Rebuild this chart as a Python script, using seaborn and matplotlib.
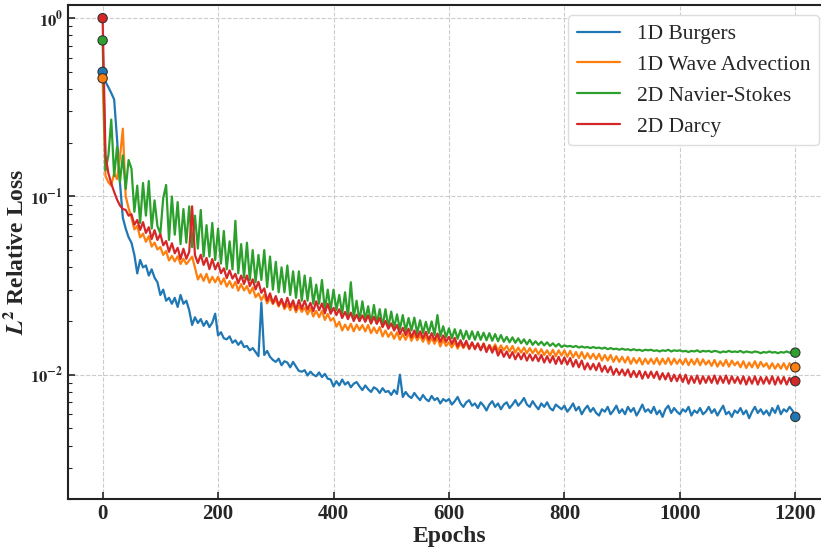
import numpy as np
import pandas as pd
import matplotlib
matplotlib.use("Agg")
import matplotlib.pyplot as plt
import seaborn as sns
from matplotlib.ticker import FuncFormatter, LogLocator

# one value every 5 epochs
epochs = list(range(0, 1201, 5))

tasks = ["1D Burgers", "1D Wave Advection", "2D Navier-Stokes", "2D Darcy"]
colors = ["#1f77b4", "#ff7f0e", "#2ca02c", "#d62728"]

burgers = [
    0.50, 0.44, 0.41, 0.38, 0.35, 0.21, 0.12, 0.076, 0.066, 0.059,
    0.055, 0.047, 0.037, 0.044, 0.040, 0.041, 0.036, 0.039, 0.035, 0.033,
    0.028, 0.030, 0.026, 0.027, 0.025, 0.027, 0.024, 0.028, 0.025, 0.026,
    0.023, 0.019, 0.021, 0.0195, 0.0205, 0.0188, 0.020, 0.0185, 0.0196, 0.022,
    0.0166, 0.0173, 0.0160, 0.0158, 0.0164, 0.0151, 0.0156, 0.0147, 0.0154, 0.0143,
    0.0145, 0.0137, 0.0141, 0.0134, 0.0127, 0.0254, 0.0129, 0.0136, 0.0126, 0.0121,
    0.0118, 0.0123, 0.0113, 0.0119, 0.0117, 0.0110, 0.0118, 0.0111, 0.0105, 0.0104,
    0.0106, 0.0099, 0.0104, 0.0100, 0.0098, 0.0103, 0.0097, 0.0101, 0.0095, 0.0094,
    0.0086, 0.0092, 0.0087, 0.0094, 0.0088, 0.0091, 0.0085, 0.0089, 0.0091, 0.0086,
    0.0082, 0.0087, 0.0083, 0.0080, 0.0085, 0.0083, 0.0079, 0.0084, 0.0080, 0.0081,
    0.0077, 0.0082, 0.0078, 0.0100, 0.0075, 0.0080, 0.0076, 0.0074, 0.0079, 0.0075,
    0.0072, 0.0077, 0.0073, 0.0071, 0.0076, 0.0072, 0.0074, 0.0069, 0.0073, 0.0071,
    0.0073, 0.0068, 0.0071, 0.0075, 0.0069, 0.0066, 0.0070, 0.0072, 0.0067, 0.0069,
    0.0065, 0.0070, 0.0067, 0.0063, 0.0068, 0.0071, 0.0066, 0.0069, 0.0064, 0.0068,
    0.0070, 0.0065, 0.0068, 0.0072, 0.0067, 0.0070, 0.0074, 0.0068, 0.0066, 0.0071,
    0.0067, 0.0064, 0.0069, 0.0066, 0.0070, 0.0065, 0.0063, 0.0068, 0.0066, 0.0064,
    0.0067, 0.0062, 0.0065, 0.0069, 0.0063, 0.0066, 0.0060, 0.0064, 0.0067, 0.0062,
    0.0065, 0.0061, 0.0059, 0.0064, 0.0062, 0.0066, 0.0060, 0.0063, 0.0067, 0.0061,
    0.0064, 0.0060, 0.0066, 0.0062, 0.0065, 0.0059, 0.0063, 0.0068, 0.0062, 0.0064,
    0.0061, 0.0066, 0.0060, 0.0063, 0.0058, 0.0064, 0.0067, 0.0061, 0.0065, 0.0062,
    0.0060, 0.0064, 0.0062, 0.0066, 0.0059, 0.0063, 0.0061, 0.0065, 0.0060, 0.0062,
    0.0066, 0.0061, 0.0064, 0.0059, 0.0063, 0.0067, 0.0060, 0.0062, 0.0058, 0.0063,
    0.0061, 0.0065, 0.0060, 0.0063, 0.0057, 0.0062, 0.0066, 0.0061, 0.0064, 0.0060,
    0.0063, 0.0059, 0.0065, 0.0061, 0.0067, 0.0060, 0.0064, 0.0062, 0.0066, 0.0063,
    0.0058,
]

wave = [
    0.46, 0.13, 0.12, 0.115, 0.135, 0.125, 0.165, 0.24, 0.10, 0.086,
    0.0759, 0.0653, 0.0683, 0.0589, 0.0618, 0.0557, 0.0599, 0.0523, 0.0551, 0.0504,
    0.052, 0.047, 0.0494, 0.0437, 0.0464, 0.0432, 0.0462, 0.0418, 0.0447, 0.0417,
    0.0437, 0.046, 0.0399, 0.0342, 0.0366, 0.0336, 0.0368, 0.0328, 0.0354, 0.033,
    0.0354, 0.0322, 0.0347, 0.0312, 0.0335, 0.0307, 0.0332, 0.0296, 0.0322, 0.0297,
    0.0314, 0.0286, 0.0308, 0.0272, 0.0286, 0.0262, 0.0281, 0.0251, 0.027, 0.0249,
    0.0264, 0.0241, 0.026, 0.0233, 0.0249, 0.023, 0.025, 0.0224, 0.0243, 0.0225,
    0.0238, 0.0218, 0.0236, 0.0212, 0.0228, 0.021, 0.0228, 0.0203, 0.0219, 0.0201,
    0.0208, 0.0186, 0.0198, 0.0177, 0.0191, 0.0178, 0.0193, 0.0175, 0.0191, 0.0178,
    0.019, 0.0175, 0.019, 0.0171, 0.0184, 0.0171, 0.0185, 0.0164, 0.0177, 0.0163,
    0.0173, 0.0159, 0.0173, 0.0157, 0.0169, 0.0157, 0.0171, 0.0155, 0.0168, 0.0156,
    0.0166, 0.0153, 0.0166, 0.0149, 0.0161, 0.0149, 0.0161, 0.0144, 0.0157, 0.0145,
    0.0152, 0.0142, 0.0153, 0.014, 0.015, 0.0141, 0.0151, 0.0139, 0.015, 0.0141,
    0.0149, 0.0139, 0.015, 0.0137, 0.0147, 0.0138, 0.0148, 0.0136, 0.0146, 0.0137,
    0.0145, 0.0135, 0.0145, 0.0133, 0.0142, 0.0133, 0.0142, 0.0132, 0.0141, 0.0132,
    0.014, 0.013, 0.0139, 0.0129, 0.0137, 0.0128, 0.0138, 0.0127, 0.0137, 0.0128,
    0.0137, 0.0126, 0.0136, 0.0125, 0.0134, 0.0124, 0.0134, 0.0123, 0.0132, 0.0123,
    0.0131, 0.0122, 0.0131, 0.012, 0.0129, 0.012, 0.0129, 0.0118, 0.0127, 0.0118,
    0.0126, 0.0117, 0.0126, 0.0115, 0.0124, 0.0116, 0.0124, 0.0114, 0.0123, 0.0115,
    0.0123, 0.0115, 0.0124, 0.0114, 0.0123, 0.0115, 0.0124, 0.0114, 0.0123, 0.0115,
    0.0122, 0.0114, 0.0123, 0.0113, 0.0122, 0.0114, 0.0123, 0.0113, 0.0122, 0.0114,
    0.012, 0.0112, 0.0121, 0.0111, 0.0119, 0.0112, 0.0121, 0.0111, 0.012, 0.0113,
    0.0118, 0.011, 0.0119, 0.0109, 0.0117, 0.011, 0.0119, 0.0109, 0.0118, 0.0111,
    0.0116, 0.0108, 0.0116, 0.0108, 0.0115, 0.0108, 0.0116, 0.0107, 0.0116, 0.0109,
    0.0110,
]

navier = [
    0.75, 0.14, 0.17, 0.27, 0.13, 0.19, 0.12, 0.17, 0.11, 0.16,
    0.143, 0.082, 0.115, 0.071, 0.119, 0.078, 0.122, 0.066, 0.095, 0.068,
    0.062, 0.098, 0.116, 0.057, 0.100, 0.061, 0.093, 0.054, 0.085, 0.055,
    0.088, 0.052, 0.078, 0.051, 0.084, 0.046, 0.069, 0.046, 0.071, 0.044,
    0.066, 0.042, 0.064, 0.039, 0.056, 0.039, 0.073, 0.037, 0.054, 0.035,
    0.055, 0.034, 0.050, 0.033, 0.047, 0.034, 0.050, 0.031, 0.046, 0.030,
    0.043, 0.029, 0.040, 0.029, 0.041, 0.028, 0.038, 0.027, 0.038, 0.026,
    0.036, 0.026, 0.035, 0.025, 0.032, 0.025, 0.034, 0.023, 0.030, 0.023,
    0.030, 0.023, 0.028, 0.022, 0.029, 0.021, 0.033, 0.021, 0.026, 0.020,
    0.0258, 0.0203, 0.0242, 0.0194, 0.0246, 0.0194, 0.0233, 0.0187, 0.0233, 0.0185,
    0.0226, 0.0183, 0.0218, 0.0180, 0.0216, 0.0176, 0.0208, 0.0177, 0.0209, 0.0171,
    0.0202, 0.0171, 0.0198, 0.0171, 0.0199, 0.0167, 0.0216, 0.0164, 0.0187, 0.0162,
    0.0182, 0.0160, 0.0180, 0.0159, 0.0178, 0.0158, 0.0176, 0.0158, 0.0175, 0.0157,
    0.0174, 0.0157, 0.0172, 0.0156, 0.0171, 0.0155, 0.0169, 0.0154, 0.0167, 0.0153,
    0.0163, 0.0152, 0.0162, 0.0151, 0.0160, 0.0150, 0.0158, 0.0148, 0.0157, 0.0147,
    0.0154, 0.0147, 0.0153, 0.0146, 0.0152, 0.0145, 0.0150, 0.0144, 0.0149, 0.0143,
    0.0146, 0.0144, 0.0145, 0.0143, 0.0145, 0.0142, 0.0144, 0.0142, 0.0143, 0.0141,
    0.0143, 0.0141, 0.0142, 0.0140, 0.0142, 0.0139, 0.0141, 0.0139, 0.0140, 0.0138,
    0.0140, 0.0138, 0.0139, 0.0137, 0.0139, 0.0137, 0.0138, 0.0136, 0.0138, 0.0137,
    0.0138, 0.0136, 0.0137, 0.0135, 0.0137, 0.0136, 0.0138, 0.0135, 0.0137, 0.0136,
    0.0137, 0.0135, 0.0136, 0.0134, 0.0136, 0.0135, 0.0137, 0.0134, 0.0136, 0.0135,
    0.0136, 0.0134, 0.0136, 0.0135, 0.0133, 0.0135, 0.0134, 0.0136, 0.0134, 0.0135,
    0.0134, 0.0136, 0.0133, 0.0135, 0.0134, 0.0133, 0.0135, 0.0134, 0.0132, 0.0134,
    0.0133, 0.0135, 0.0133, 0.0134, 0.0132, 0.0134, 0.0133, 0.0135, 0.0133, 0.0134,
    0.0133,
]

darcy = [
    1.0, 0.17, 0.135, 0.118, 0.106, 0.096, 0.089, 0.085, 0.084, 0.078,
    0.0795, 0.0694, 0.0738, 0.0649, 0.0717, 0.0624, 0.0672, 0.0577, 0.0647, 0.057,
    0.0615, 0.0532, 0.0562, 0.0489, 0.0546, 0.048, 0.0515, 0.0446, 0.0509, 0.0447,
    0.0488, 0.088, 0.0468, 0.0423, 0.0471, 0.0413, 0.0452, 0.0391, 0.0445, 0.039,
    0.0424, 0.0371, 0.0395, 0.0348, 0.0385, 0.0346, 0.0368, 0.0326, 0.036, 0.0323,
    0.036, 0.0314, 0.0343, 0.0301, 0.0332, 0.0288, 0.0305, 0.026, 0.0286, 0.0252,
    0.0276, 0.0245, 0.0266, 0.0239, 0.027, 0.024, 0.0261, 0.0231, 0.0262, 0.0234,
    0.026, 0.0232, 0.0253, 0.0227, 0.0258, 0.023, 0.0251, 0.0221, 0.025, 0.022,
    0.0237, 0.0216, 0.0233, 0.0208, 0.0225, 0.0205, 0.0223, 0.020, 0.0217, 0.020,
    0.0215, 0.0198, 0.0215, 0.0194, 0.0211, 0.0193, 0.0208, 0.0185, 0.020, 0.0181,
    0.0194, 0.0177, 0.019, 0.0169, 0.0183, 0.0167, 0.0181, 0.0162, 0.0177, 0.0162,
    0.0175, 0.016, 0.0174, 0.0157, 0.0171, 0.0156, 0.017, 0.0153, 0.0166, 0.0153,
    0.0163, 0.0149, 0.0161, 0.0144, 0.0156, 0.0143, 0.0155, 0.014, 0.0152, 0.0139,
    0.015, 0.0137, 0.0149, 0.0134, 0.0146, 0.0133, 0.0144, 0.0128, 0.0138, 0.0126,
    0.0135, 0.0124, 0.0134, 0.0122, 0.0132, 0.0122, 0.0132, 0.012, 0.013, 0.012,
    0.0129, 0.0119, 0.0129, 0.0117, 0.0127, 0.0117, 0.0127, 0.0115, 0.0126, 0.0115,
    0.0125, 0.0114, 0.0124, 0.0111, 0.0121, 0.011, 0.012, 0.0107, 0.0116, 0.0107,
    0.0115, 0.0106, 0.0116, 0.0104, 0.0112, 0.0103, 0.0111, 0.010, 0.0108, 0.010,
    0.0107, 0.0099, 0.0107, 0.0097, 0.0105, 0.0097, 0.0105, 0.0095, 0.0104, 0.0096,
    0.0104, 0.0096, 0.0104, 0.0094, 0.0102, 0.0094, 0.0102, 0.0092, 0.010, 0.0092,
    0.010, 0.0091, 0.010, 0.0089, 0.0098, 0.009, 0.0099, 0.0089, 0.0098, 0.009,
    0.0098, 0.009, 0.0099, 0.0089, 0.0098, 0.009, 0.0099, 0.0089, 0.0098, 0.009,
    0.0097, 0.0089, 0.0098, 0.0088, 0.0097, 0.0089, 0.0098, 0.0088, 0.0097, 0.0089,
    0.0097, 0.0089, 0.0098, 0.0088, 0.0097, 0.0089, 0.0097, 0.0088, 0.0096, 0.0089,
    0.0092,
]

series = [burgers, wave, navier, darcy]

df = pd.concat(
    [pd.DataFrame({"Epoch": epochs, "Loss": vals, "Task": name}) for name, vals in zip(tasks, series)],
    ignore_index=True,
)
ends = df[df["Epoch"].isin([epochs[0], epochs[-1]])]

sns.set_style("ticks")
plt.rcParams["font.family"] = ["Liberation Serif", "DejaVu Serif"]
plt.rcParams["mathtext.fontset"] = "stix"

fig = plt.figure(figsize=(8.21, 5.47), dpi=100)
ax = fig.add_axes([0.0828, 0.0872, 0.9281, 0.9042])

pal = dict(zip(tasks, colors))
sns.lineplot(data=df, x="Epoch", y="Loss", hue="Task", palette=pal, linewidth=1.6,
             estimator=None, ax=ax)
sns.scatterplot(data=ends, x="Epoch", y="Loss", hue="Task", palette=pal, s=45,
                edgecolor="#333333", linewidth=0.8, legend=False, zorder=4, ax=ax)

ax.set_yscale("log")
ax.set_xlim(-60, 1260)
ax.set_ylim(2.0e-3, 1.19)
ax.set_xticks([0, 200, 400, 600, 800, 1000, 1200])
ax.yaxis.set_major_locator(LogLocator(base=10))
ax.yaxis.set_minor_locator(LogLocator(base=10, subs=np.arange(2, 10)))
ax.yaxis.set_major_formatter(FuncFormatter(lambda v, _: r"$\mathbf{10^{%d}}$" % round(np.log10(v))))

ax.grid(True, which="major", linestyle="--", color="#cccccc", linewidth=0.8)
ax.tick_params(axis="both", which="major", direction="in", length=5, width=1.2)
ax.tick_params(axis="x", labelsize=15)
ax.tick_params(axis="y", labelsize=12)
ax.tick_params(axis="y", which="minor", direction="in", length=3, width=0.8)
for lab in ax.get_xticklabels():
    lab.set_fontweight("bold")
for sp in ax.spines.values():
    sp.set_linewidth(1.5)
    sp.set_color("#222222")

ax.set_xlabel("Epochs", fontsize=17, fontweight="bold", labelpad=1)
ax.set_ylabel(r"$\mathbfit{L}^{\mathbf{2}}$ Relative Loss", fontsize=17, fontweight="bold")
ax.yaxis.set_label_coords(-0.052, 0.5)

handles, labels = ax.get_legend_handles_labels()
leg = ax.legend(handles, labels, loc="upper right", fontsize=15.5, frameon=True, fancybox=True,
                edgecolor="#dddddd", framealpha=1.0)

fig.savefig("out.png", dpi=100)
